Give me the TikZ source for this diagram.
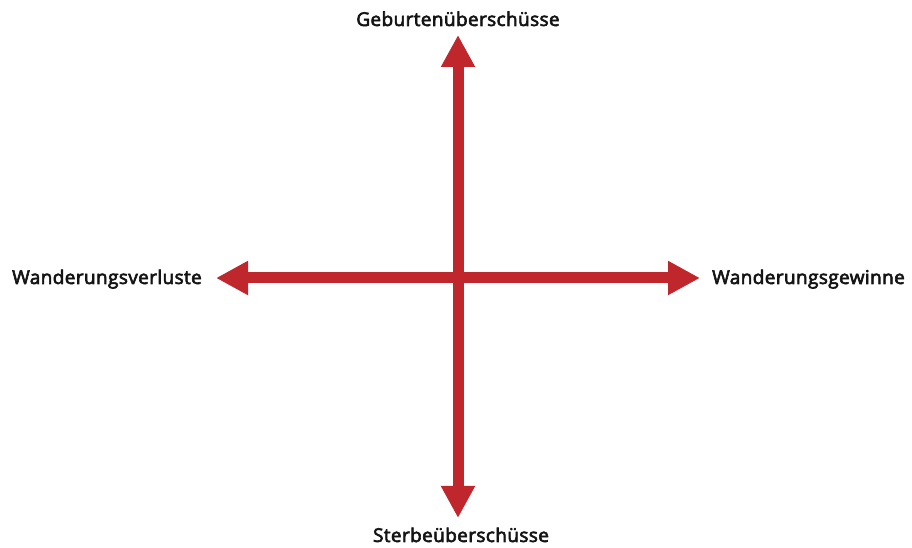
\documentclass[tikz,border=0pt]{standalone}
\usepackage{fontspec}
\setmainfont{Open Sans}
\newfontfamily\labfont[FakeBold=3.2,LetterSpace=2]{Open Sans}
\usetikzlibrary{arrows.meta}
\definecolor{arrred}{RGB}{192,39,45}
\tikzset{
  axisarrow/.style={draw=arrred, line width=11pt, -{Triangle[length=32pt,width=32pt]}},
  lab/.style={inner sep=0pt, font=\labfont\fontsize{19pt}{21pt}\selectfont, text=black!92}
}
\begin{document}
\begin{tikzpicture}[x=1pt,y=1pt]
\useasboundingbox (0,0) rectangle (912,548);
\coordinate (c) at (458,270);
\coordinate (top) at (458,513);
\coordinate (bot) at (458,30);
\coordinate (lft) at (216,270);
\coordinate (rgt) at (700,270);
\draw[axisarrow] (c) -- (top);
\draw[axisarrow] (c) -- (bot);
\draw[axisarrow] (c) -- (lft);
\draw[axisarrow] (c) -- (rgt);
\node[lab, anchor=base] (tl) at (458,522) {Geburtenüberschüsse};
\node[lab, anchor=base] (bl) at (461,6) {Sterbeüberschüsse};
\node[lab, anchor=base east] (ll) at (202,264) {Wanderungsverluste};
\node[lab, anchor=base west] (rl) at (712,264) {Wanderungsgewinne};
\end{tikzpicture}
\end{document}
